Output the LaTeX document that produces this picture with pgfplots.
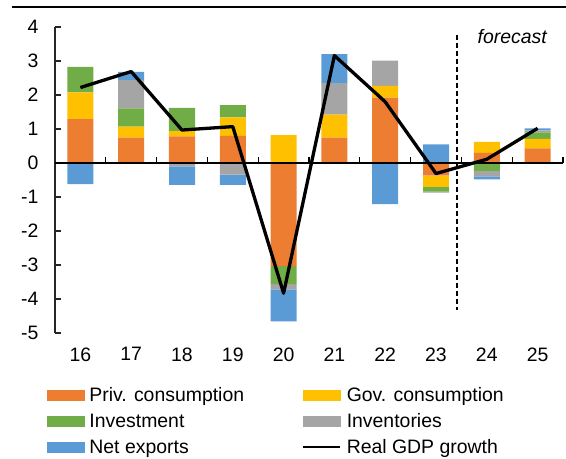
\documentclass[border=0pt]{standalone}
\usepackage{pgfplots}
\usepackage{pgfplotstable}
\pgfplotsset{compat=1.18}
\usepackage{fontspec}
\setmainfont{Liberation Sans}
\definecolor{cPriv}{HTML}{ED7D31}
\definecolor{cGov}{HTML}{FFC000}
\definecolor{cInv}{HTML}{70AD47}
\definecolor{cStk}{HTML}{A5A5A5}
\definecolor{cNX}{HTML}{5B9BD5}

\pgfplotstableread{
x priv gov inv stk nx
0 1.29 0.79 0.75 0.00 0.00
1 0.75 0.32 0.54 0.83 0.24
2 0.78 0.16 0.68 0.00 0.00
3 0.80 0.54 0.36 0.00 0.00
4 0.00 0.82 0.00 0.00 0.00
5 0.75 0.67 0.00 0.93 0.85
6 1.92 0.35 0.00 0.74 0.00
7 0.00 0.00 0.00 0.00 0.55
8 0.30 0.32 0.00 0.00 0.00
9 0.43 0.28 0.19 0.06 0.06
}\pos

\pgfplotstableread{
x priv gov inv stk nx
0 0.00 0.00 0.00 0.00 -0.62
1 0.00 0.00 0.00 0.00 0.00
2 0.00 0.00 0.00 -0.10 -0.54
3 0.00 0.00 0.00 -0.34 -0.30
4 -3.03 0.00 -0.53 -0.16 -0.94
5 0.00 0.00 -0.02 0.00 0.00
6 0.00 0.00 0.00 0.00 -1.21
7 -0.37 -0.33 -0.14 -0.03 0.00
8 0.00 0.00 -0.23 -0.16 -0.09
9 0.00 0.00 0.00 0.00 0.00
}\neg

\pgfplotstableread{
x gdp
0 2.22
1 2.69
2 0.97
3 1.07
4 -3.83
5 3.16
6 1.80
7 -0.31
8 0.11
9 1.02
}\gdp

\pgfplotsset{
  base/.style={
    scale only axis, width=508bp, height=306bp,
    xmin=-0.5, xmax=9.5, ymin=-5, ymax=4,
  },
  barbase/.style={
    base, ybar stacked, bar width=26bp,
  },
}
\newcommand{\lblfont}{\fontsize{19.5}{23}\selectfont}

\begin{document}
\begin{tikzpicture}
\useasboundingbox (-55bp,-126bp) rectangle (511bp,333bp);
% positive parts + axes + legend
\begin{axis}[barbase,
  axis x line*=bottom, axis y line*=left,
  x axis line style={draw=none},
  y axis line style={line width=1.2bp, black!85},
  xtick={0,...,9}, xticklabels={16,17,18,19,20,21,22,23,24,25},
  xtick style={draw=none},
  ytick={-5,...,4}, yticklabels={-5,-4,-3,-2,-1,0,1,2,3,4},
  ytick align=inside, major tick length=6bp,
  ytick style={line width=1.2bp, black!85},
  tick label style={font=\lblfont},
  yticklabel style={xshift=-13bp},
  xticklabel style={yshift=-11bp},
  legend columns=2, legend cell align=left,
  legend style={at={(axis description cs:-0.0157,-0.181)}, anchor=north west,
    draw=none, fill=none, inner sep=0pt, outer sep=0pt, font=\lblfont,
    nodes={inner sep=0pt, text height=13.5bp, text depth=4bp, anchor=base west},
    row sep=8.5bp,
    /tikz/every odd column/.append style={column sep=5bp},
    /tikz/every even column/.append style={column sep=58bp}},
]
\addlegendimage{legend image code/.code={\fill[cPriv] (0bp,2bp) rectangle (37bp,12bp);}}
\addlegendentry{Priv. consumption}
\addlegendimage{legend image code/.code={\fill[cGov] (0bp,2bp) rectangle (37bp,12bp);}}
\addlegendentry{Gov. consumption}
\addlegendimage{legend image code/.code={\fill[cInv] (0bp,2bp) rectangle (37bp,12bp);}}
\addlegendentry{Investment}
\addlegendimage{legend image code/.code={\fill[cStk] (0bp,2bp) rectangle (37bp,12bp);}}
\addlegendentry{Inventories}
\addlegendimage{legend image code/.code={\fill[cNX] (0bp,2bp) rectangle (37bp,12bp);}}
\addlegendentry{Net exports}
\addlegendimage{legend image code/.code={\draw[black, line width=2.6bp] (0bp,7bp) -- (37bp,7bp);}}
\addlegendentry{Real GDP growth}
\addplot[fill=cPriv, draw=none, forget plot] table[x=x, y=priv] {\pos};
\addplot[fill=cGov, draw=none, forget plot] table[x=x, y=gov] {\pos};
\addplot[fill=cInv, draw=none, forget plot] table[x=x, y=inv] {\pos};
\addplot[fill=cStk, draw=none, forget plot] table[x=x, y=stk] {\pos};
\addplot[fill=cNX, draw=none, forget plot] table[x=x, y=nx] {\pos};
\end{axis}
% negative parts
\begin{axis}[barbase, hide axis]
\addplot[fill=cPriv, draw=none] table[x=x, y=priv] {\neg};
\addplot[fill=cGov, draw=none] table[x=x, y=gov] {\neg};
\addplot[fill=cInv, draw=none] table[x=x, y=inv] {\neg};
\addplot[fill=cStk, draw=none] table[x=x, y=stk] {\neg};
\addplot[fill=cNX, draw=none] table[x=x, y=nx] {\neg};
\end{axis}
% zero line, ticks, forecast marker, GDP line
\begin{axis}[base, hide axis, clip=false]
\draw[black, line width=1.2bp] (axis cs:-0.5,0) -- (axis cs:9.5,0);
\draw[black, line width=1.2bp] (axis cs:0.5,0) -- (axis cs:0.5,0.19);
\draw[black, line width=1.2bp] (axis cs:1.5,0) -- (axis cs:1.5,0.19);
\draw[black, line width=1.2bp] (axis cs:2.5,0) -- (axis cs:2.5,0.19);
\draw[black, line width=1.2bp] (axis cs:3.5,0) -- (axis cs:3.5,0.19);
\draw[black, line width=1.2bp] (axis cs:4.5,0) -- (axis cs:4.5,0.19);
\draw[black, line width=1.2bp] (axis cs:5.5,0) -- (axis cs:5.5,0.19);
\draw[black, line width=1.2bp] (axis cs:6.5,0) -- (axis cs:6.5,0.19);
\draw[black, line width=1.2bp] (axis cs:7.5,0) -- (axis cs:7.5,0.19);
\draw[black, line width=1.2bp] (axis cs:8.5,0) -- (axis cs:8.5,0.19);
\draw[black, line width=1.2bp] (axis cs:9.5,0) -- (axis cs:9.5,0.19);
\draw[black, line width=1.8bp, dash pattern=on 5bp off 3bp] (axis cs:7.42,3.76) -- (axis cs:7.42,-4.32);
\node[font=\itshape\lblfont] at (axis cs:8.5,3.72) {forecast};
\addplot[black, line width=3.3bp, line join=round, mark=none] table[x=x, y=gdp] {\gdp};
\end{axis}
\draw[black, line width=1.3bp] (-43bp,326bp) -- (511bp,326bp);
\end{tikzpicture}
\end{document}
